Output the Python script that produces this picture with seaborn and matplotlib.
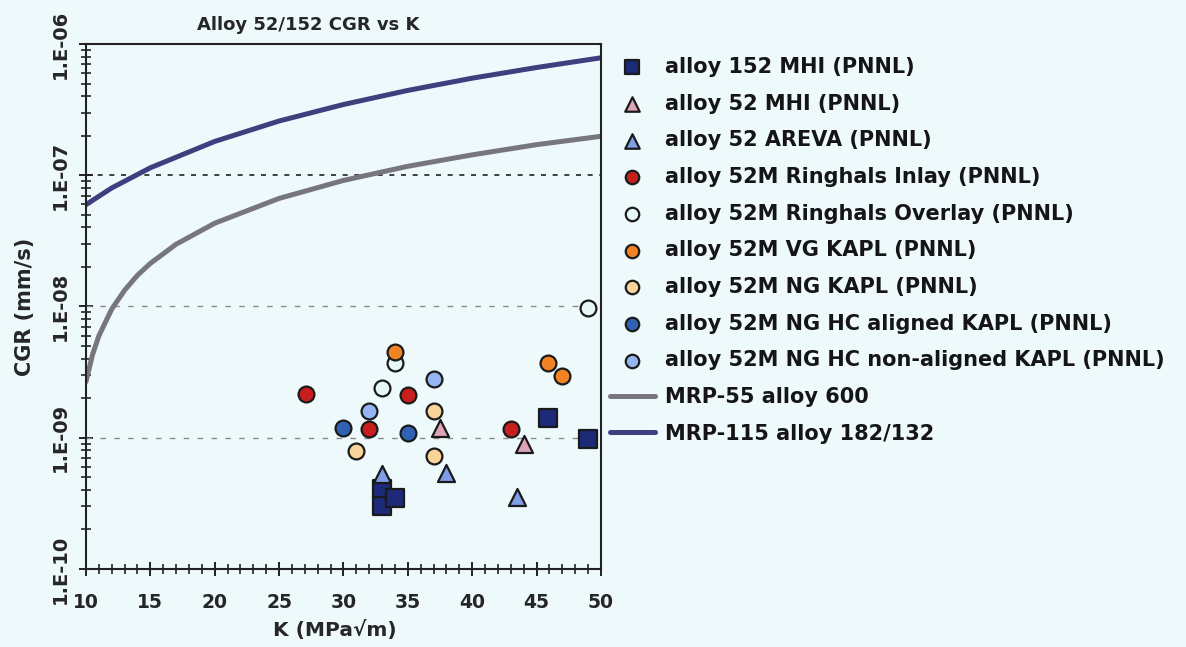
import numpy as np
import pandas as pd
import seaborn as sns
import matplotlib.pyplot as plt
from matplotlib.ticker import FixedLocator, FuncFormatter, LogLocator, MultipleLocator

# Data (K in MPa*sqrt(m), CGR in mm/s)
k_152_mhi = [33.0, 33.0, 34.0, 45.9, 49.0]
cgr_152_mhi = [4.1e-10, 3.0e-10, 3.5e-10, 1.42e-9, 9.8e-10]

k_52_mhi = [37.5, 44.0]
cgr_52_mhi = [1.19e-9, 9.0e-10]

k_52_areva = [33.0, 38.0, 43.5]
cgr_52_areva = [5.3e-10, 5.4e-10, 3.55e-10]

k_inlay = [27.1, 32.0, 35.0, 43.0]
cgr_inlay = [2.17e-9, 1.17e-9, 2.13e-9, 1.17e-9]

k_overlay = [33.0, 34.0, 49.0]
cgr_overlay = [2.41e-9, 3.74e-9, 9.8e-9]

k_vg = [34.0, 45.9, 47.0]
cgr_vg = [4.53e-9, 3.74e-9, 2.97e-9]

k_ng = [31.0, 37.0, 37.0]
cgr_ng = [7.96e-10, 1.61e-9, 7.3e-10]

k_hc_al = [30.0, 35.0]
cgr_hc_al = [1.19e-9, 1.09e-9]

k_hc_nonal = [32.0, 37.0]
cgr_hc_nonal = [1.61e-9, 2.82e-9]

# disposition curves read along K
k_mrp55 = [10, 10.5, 11, 12, 13, 14, 15, 17, 20, 25, 30, 35, 40, 45, 50]
cgr_mrp55 = [2.67e-9, 4.27e-9, 5.97e-9, 9.55e-9, 1.33e-8, 1.73e-8, 2.13e-8, 2.98e-8,
             4.31e-8, 6.66e-8, 9.13e-8, 1.17e-7, 1.43e-7, 1.71e-7, 1.98e-7]
k_mrp115 = [10, 12, 15, 20, 25, 30, 35, 40, 45, 50]
cgr_mrp115 = [5.97e-8, 8.0e-8, 1.14e-7, 1.81e-7, 2.59e-7, 3.46e-7, 4.43e-7,
              5.49e-7, 6.62e-7, 7.85e-7]

series = [
    ('alloy 152 MHI (PNNL)', k_152_mhi, cgr_152_mhi, 's', '#1c2a78', 160),
    ('alloy 52 MHI (PNNL)', k_52_mhi, cgr_52_mhi, '^', '#dca4b4', 150),
    ('alloy 52 AREVA (PNNL)', k_52_areva, cgr_52_areva, '^', '#7f9ee6', 150),
    ('alloy 52M Ringhals Inlay (PNNL)', k_inlay, cgr_inlay, 'o', '#c81e1e', 130),
    ('alloy 52M Ringhals Overlay (PNNL)', k_overlay, cgr_overlay, 'o', '#e6f8f8', 130),
    ('alloy 52M VG KAPL (PNNL)', k_vg, cgr_vg, 'o', '#f08424', 130),
    ('alloy 52M NG KAPL (PNNL)', k_ng, cgr_ng, 'o', '#f8d49a', 130),
    ('alloy 52M NG HC aligned KAPL (PNNL)', k_hc_al, cgr_hc_al, 'o', '#2f62b4', 130),
    ('alloy 52M NG HC non-aligned KAPL (PNNL)', k_hc_nonal, cgr_hc_nonal, 'o', '#94b4f2', 130),
]

bg = '#eef9fc'
sns.set_style('ticks')
plt.rcParams['font.family'] = ['DejaVu Sans']
plt.rcParams['font.weight'] = 'bold'

fig = plt.figure(figsize=(11.86, 6.47), dpi=100, facecolor=bg)
ax = fig.add_axes([0.0725, 0.1206, 0.4342, 0.8114], facecolor=bg)

# reference grid lines
ax.axhline(1e-7, color='#202020', lw=1.2, ls=(0, (3, 4)), zorder=1)
ax.axhline(1e-8, color='#8a8a8a', lw=1.0, ls=(0, (4, 6)), zorder=1)
ax.axhline(1e-9, color='#8a8a8a', lw=1.0, ls=(0, (4, 6)), zorder=1)

sns.lineplot(x=k_mrp55, y=cgr_mrp55, ax=ax, color='#77767e', lw=3.6,
             label='MRP-55 alloy 600', zorder=2)
sns.lineplot(x=k_mrp115, y=cgr_mrp115, ax=ax, color='#3f3f80', lw=3.6,
             label='MRP-115 alloy 182/132', zorder=2)

for name, kx, cy, mk, col, sz in series:
    sns.scatterplot(x=kx, y=cy, ax=ax, marker=mk, color=col, s=sz,
                    edgecolor='#1a1a1a', linewidth=1.6, label=name, zorder=3)

ax.set_yscale('log')
ax.set_xlim(10, 50)
ax.set_ylim(1e-10, 1e-6)
ax.xaxis.set_major_locator(MultipleLocator(5))
ax.xaxis.set_minor_locator(MultipleLocator(1))
ax.yaxis.set_major_locator(FixedLocator([1e-10, 1e-9, 1e-8, 1e-7, 1e-6]))
ax.yaxis.set_minor_locator(LogLocator(base=10, subs=np.arange(2, 10)))
ax.yaxis.set_minor_formatter(FuncFormatter(lambda v, p: ''))
ax.yaxis.set_major_formatter(FuncFormatter(lambda v, p: '1.E-%02d' % round(-np.log10(v))))

ax.tick_params(axis='both', which='major', direction='inout', length=10, width=1.3,
               color='#111111', labelsize=13.5, pad=12)
ax.tick_params(axis='both', which='minor', direction='inout', length=7, width=1.1,
               color='#111111')
ax.tick_params(axis='y', which='major', pad=7, labelsize=14)
for lab in ax.get_yticklabels():
    lab.set_rotation(90)
    lab.set_va('center')
for lab in ax.get_xticklabels() + ax.get_yticklabels():
    lab.set_fontweight('bold')

for sp in ax.spines.values():
    sp.set_visible(True)
    sp.set_color('#222222')
    sp.set_linewidth(1.5)

ax.set_title('Alloy 52/152 CGR vs K', fontsize=13, fontweight='bold', pad=10, x=0.431)
ax.set_xlabel('K (MPa√m)', fontsize=14.5, fontweight='bold')
ax.xaxis.set_label_coords(0.483, -0.098)
ax.set_ylabel('CGR (mm/s)', fontsize=15, fontweight='bold')
ax.yaxis.set_label_coords(-0.099, 0.5)

handles, labels = ax.get_legend_handles_labels()
order = list(range(2, len(handles))) + [0, 1]
leg = ax.legend([handles[i] for i in order], [labels[i] for i in order],
                loc='upper left', bbox_to_anchor=(0.514, 0.912),
                bbox_transform=fig.transFigure, frameon=False,
                fontsize=15, labelspacing=0.8, handlelength=2.16,
                handletextpad=0.48, borderpad=0, borderaxespad=0,
                markerscale=0.85)
for t in leg.get_texts():
    t.set_fontweight('bold')
    t.set_color('#151515')

fig.savefig('out.png', dpi=100, facecolor=bg)
